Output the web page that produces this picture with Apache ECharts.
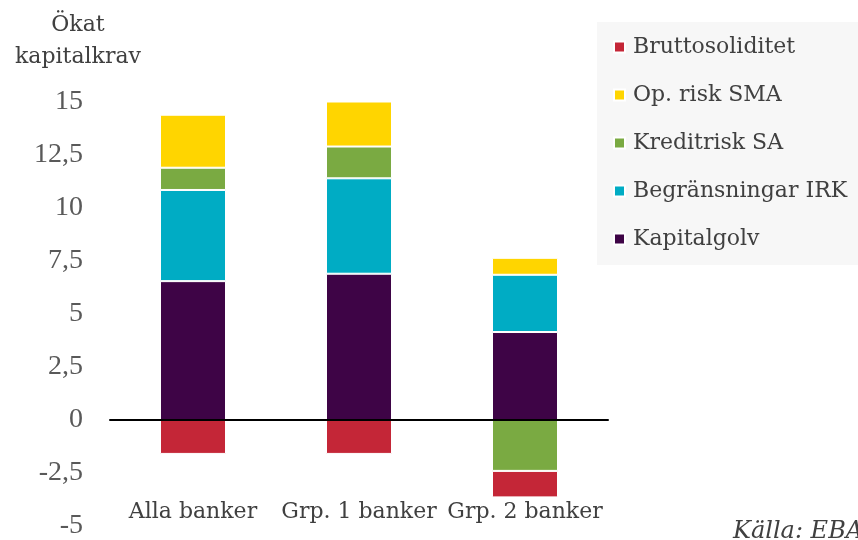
<!DOCTYPE html>
<html><head><meta charset="utf-8">
<script src="https://cdn.jsdelivr.net/npm/echarts@6/dist/echarts.min.js"></script>
<style>html,body{margin:0;padding:0;background:#fff}#c{width:858px;height:540px}</style>
</head><body><div id="c"></div>
<script>
var categories = ['Alla banker', 'Grp. 1 banker', 'Grp. 2 banker'];
var kapitalgolv = [6.55, 6.9, 4.15];
var begransningarIRK = [4.3, 4.5, 2.7];
var kreditriskSA = [1.05, 1.5, -2.4];
var opRiskSMA = [2.5, 2.15, 0.8];
var bruttosoliditet = [-1.6, -1.6, -1.25];
var legendOrder = ['Bruttosoliditet', 'Op. risk SMA', 'Kreditrisk SA', 'Begränsningar IRK', 'Kapitalgolv'];
var yTicks = {min: -5, max: 15, interval: 2.5};

var serif = 'DejaVu Serif';
var chart = echarts.init(document.getElementById('c'), null, {renderer: 'canvas'});
function bar(name, data, color) {
  return {
    name: name, type: 'bar', stack: 'total', data: data, barWidth: 66,
    itemStyle: {color: color, borderColor: '#fff', borderWidth: 1},
    emphasis: {disabled: true}
  };
}
chart.setOption({
  animation: false,
  grid: {left: 110, right: 250, top: 102, bottom: 10},
  legend: {
    orient: 'vertical', left: 597, top: 22, data: legendOrder,
    backgroundColor: '#f7f7f7', padding: [14, 40, 15, 16],
    itemWidth: 11, itemHeight: 11, itemGap: 26, icon: 'rect', selectedMode: false,
    textStyle: {fontFamily: serif, fontSize: 22, color: '#404040', padding: [0, 0, 0, 3], lineHeight: 22}
  },
  xAxis: [{
    type: 'category', data: categories, z: 10,
    axisLine: {onZero: true, lineStyle: {color: '#000', width: 2}},
    axisTick: {show: false}, axisLabel: {show: false}
  }, {
    type: 'category', data: categories, position: 'bottom',
    axisLine: {show: false, onZero: false}, axisTick: {show: false},
    axisLabel: {interval: 0, margin: -25, fontFamily: serif, fontSize: 22, color: '#404040'}
  }],
  yAxis: {
    type: 'value', min: yTicks.min, max: yTicks.max, interval: yTicks.interval,
    splitLine: {show: false}, axisLine: {show: false}, axisTick: {show: false},
    axisLabel: {
      margin: 27, fontFamily: 'Liberation Serif', fontSize: 28, color: '#595959',
      formatter: function (v) { return String(v).replace('.', ','); }
    }
  },
  graphic: [{
    type: 'text', x: 78, y: 9,
    style: {text: 'Ökat\nkapitalkrav', font: '22px "DejaVu Serif"', fill: '#404040',
      align: 'center', textAlign: 'center', lineHeight: 32}
  }, {
    type: 'text', left: 733, top: 520,
    style: {text: 'Källa: EBA', font: 'italic 24px "DejaVu Serif"', fill: '#404040'}
  }],
  series: [
    bar('Kapitalgolv', kapitalgolv, '#3E0446'),
    bar('Begränsningar IRK', begransningarIRK, '#00ACC4'),
    bar('Kreditrisk SA', kreditriskSA, '#7AAA42'),
    bar('Op. risk SMA', opRiskSMA, '#FFD500'),
    bar('Bruttosoliditet', bruttosoliditet, '#C42637')
  ]
});
</script></body></html>
